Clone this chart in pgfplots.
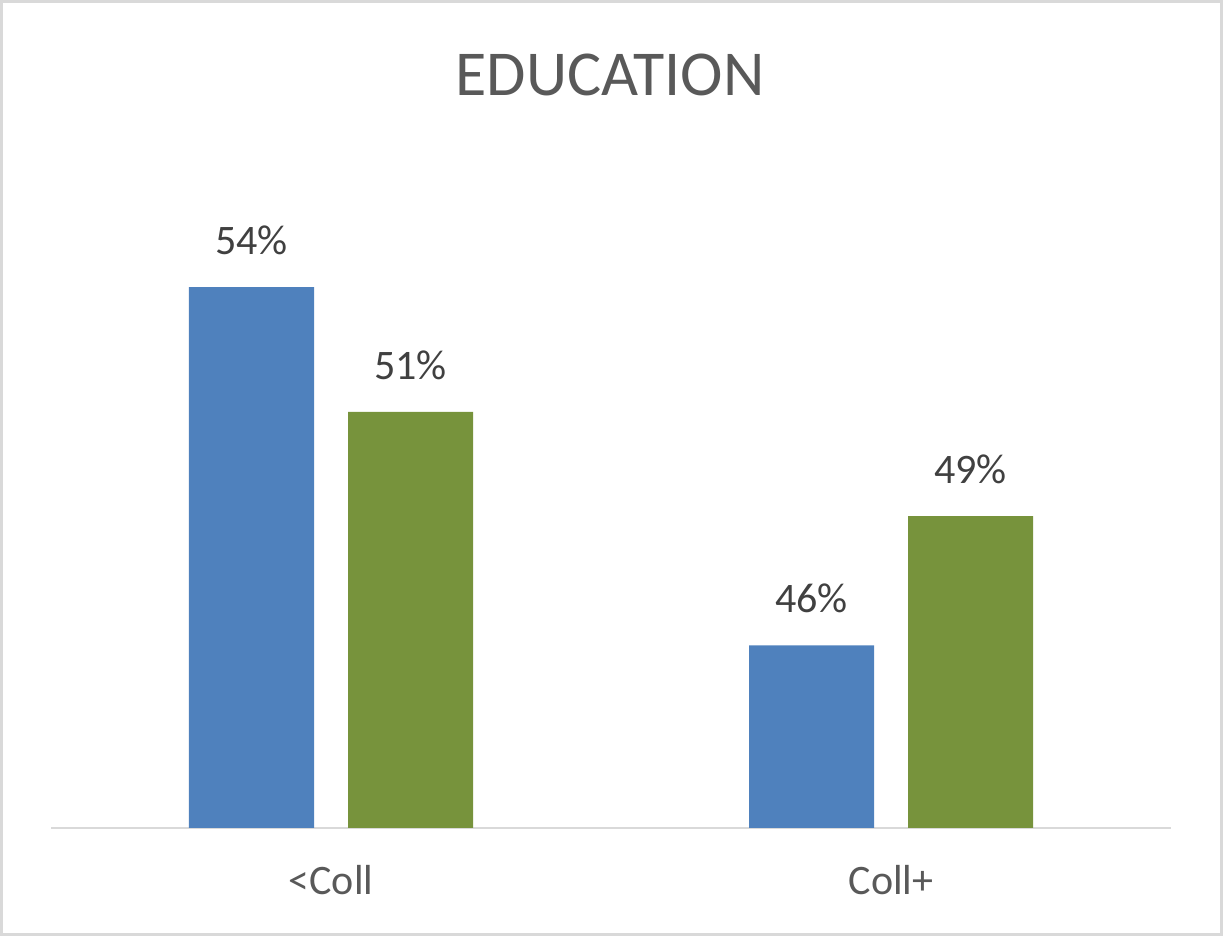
\documentclass[border=0pt]{standalone}
\usepackage{pgfplots}
\pgfplotsset{compat=1.18}
\usepackage{fontspec}
\setmainfont{Carlito}
\definecolor{barblue}{HTML}{4F81BD}
\definecolor{bargreen}{HTML}{77933C}
\definecolor{titlegray}{HTML}{595959}
\definecolor{labelgray}{HTML}{404040}
\definecolor{linegray}{HTML}{D9D9D9}
\begin{document}
\begin{tikzpicture}
\useasboundingbox (0,0) rectangle (611.5pt,468pt);
\draw[linegray, line width=1.5pt] (0.75pt,0.75pt) rectangle (610.75pt,467.25pt);
\node[anchor=base, text=titlegray, inner sep=0pt] at (305pt,420pt) {\fontsize{32}{38}\selectfont EDUCATION};
\begin{axis}[
  at={(25.5pt,54pt)}, anchor=south west,
  scale only axis, width=560pt, height=349pt,
  ybar=17pt, bar width=62.5pt,
  xmin=-0.5, xmax=1.5, ymin=41.1, ymax=58.29,
  xtick={0,1}, xticklabels={<Coll, Coll+},
  ytick=\empty,
  major tick length=0pt,
  axis y line=none, axis x line*=bottom,
  x axis line style={-, draw=linegray, line width=1.25pt},
  xticklabel style={text=titlegray, font=\fontsize{21}{25}\selectfont, anchor=base, yshift=-33.5pt},
  point meta=explicit symbolic,
  nodes near coords,
  every node near coord/.append style={text=labelgray, font=\fontsize{21}{25}\selectfont, inner sep=0pt, yshift=16pt},
  clip=false,
]
\addplot[fill=barblue, draw=none] coordinates {(0,54.42) [54\%] (1,45.6) [46\%]};
\addplot[fill=bargreen, draw=none] coordinates {(0,51.35) [51\%] (1,48.78) [49\%]};
\end{axis}
\end{tikzpicture}
\end{document}
